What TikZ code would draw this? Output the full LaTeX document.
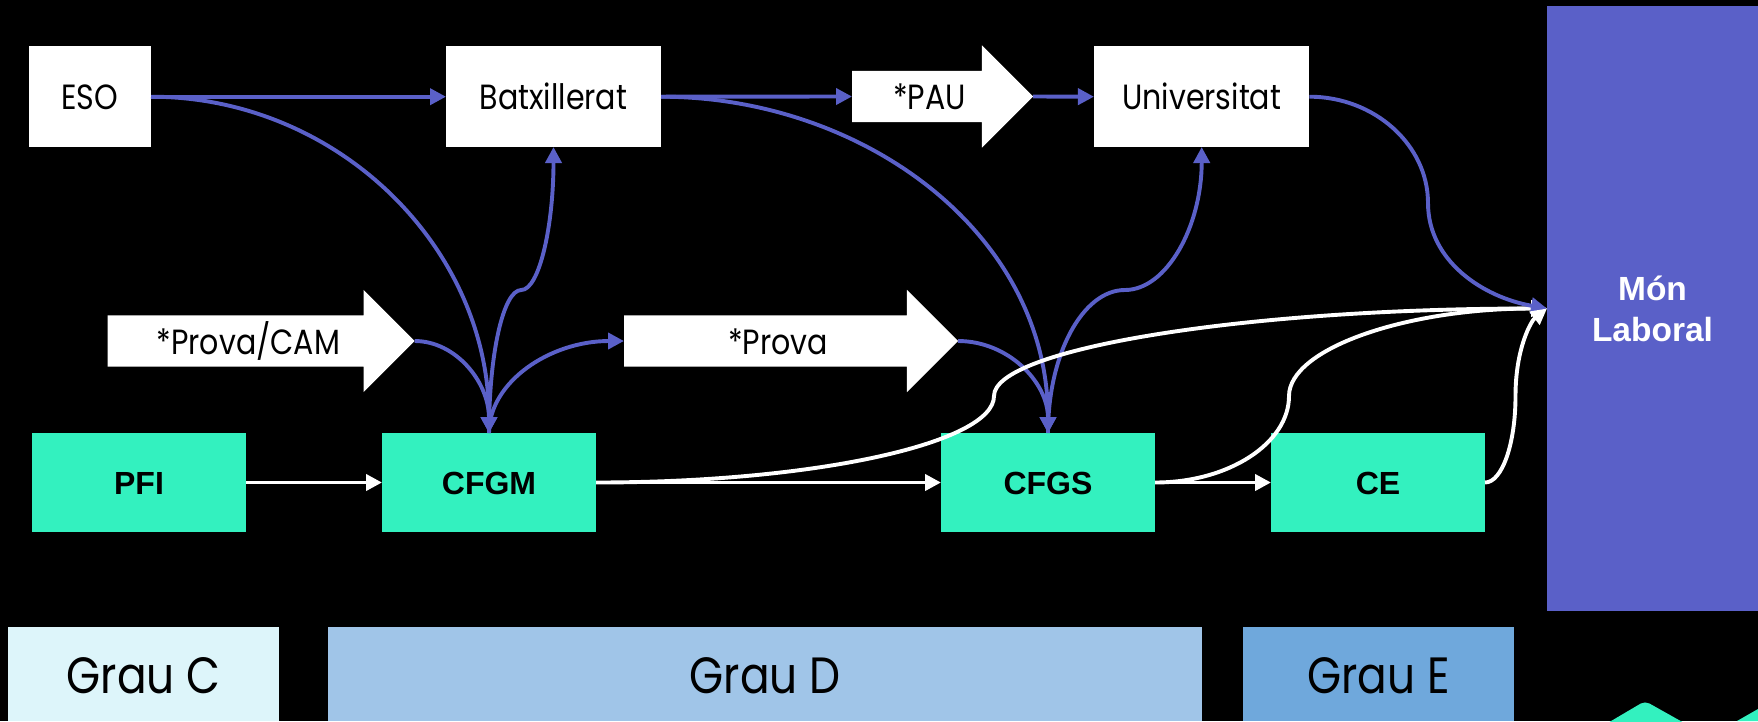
\documentclass[tikz,border=0pt]{standalone}
\usepackage{fontspec}
\setmainfont{Liberation Sans}
\newfontfamily\roundfont[FakeStretch=0.86]{Poppins}
\usetikzlibrary{shapes.arrows, arrows.meta, positioning, calc}

\definecolor{laboral}{HTML}{5A60C8}
\definecolor{mint}{HTML}{33F1BF}
\definecolor{grauc}{HTML}{DDF5FA}
\definecolor{graud}{HTML}{A0C5E8}
\definecolor{graue}{HTML}{6FA8DC}

\tikzset{
    whitebox/.style={fill=white, inner sep=0pt, outer sep=0pt, minimum height=100.6pt, text height=26.5pt, text depth=0pt, font=\fontsize{35}{42}\selectfont\roundfont},
    mintbox/.style={fill=mint, inner sep=0pt, outer sep=0pt, minimum width=214pt, minimum height=99pt, text height=23pt, text depth=0pt, font=\fontsize{32}{38}\selectfont\bfseries},
    graubox/.style={inner sep=0pt, outer sep=0pt, minimum height=94pt, text height=38.5pt, text depth=0pt, font=\fontsize{51}{58}\selectfont\roundfont},
    fatarrow/.style={single arrow, fill=white, anchor=tail, inner xsep=0pt, inner ysep=12.5pt, outer sep=0pt,
        text height=26pt, text depth=0pt, single arrow tip angle=90, single arrow head extend=25.5pt,
        minimum width=102pt, font=\fontsize{35}{42}\selectfont\roundfont},
    blueline/.style={draw=laboral, line width=3.9pt, -{Triangle[length=16pt,width=16pt]}},
    whiteline/.style={draw=white, line width=3.9pt, -{Triangle[length=16pt,width=16pt]}},
    lens/.style 2 args={out distance=#1pt, in distance=#2pt}
}

\begin{document}
\begin{tikzpicture}[x=1pt, y=1pt]
    % Background, same size as the page
    \fill[black] (0,0) rectangle (1758,-721);
    \useasboundingbox (0,0) rectangle (1758,-721);

    % Top row
    \node[whitebox, minimum width=122.4pt] (eso) at (89.8,-96.7) {ESO};
    \node[whitebox, minimum width=215pt] (batx) at (553.5,-96.7) {Batxillerat};
    \node[whitebox, minimum width=215.5pt] (univ) at (1201.7,-96.7) {Universitat};
    \node[fatarrow, minimum height=181pt] (pau) at (852,-96.5) {*PAU};

    % Middle row
    \node[fatarrow, minimum height=307pt] (cam) at (107.7,-341) {*Prova/CAM};
    \node[fatarrow, minimum height=334pt] (prova) at (624,-341) {*Prova};

    % Bottom row
    \node[mintbox] (pfi) at (139,-482.5) {PFI};
    \node[mintbox] (cfgm) at (489,-482.5) {CFGM};
    \node[mintbox] (cfgs) at (1048,-482.5) {CFGS};
    \node[mintbox] (ce) at (1378,-482.5) {CE};

    \node[fill=laboral, inner sep=0pt, outer sep=0pt, minimum width=211pt, minimum height=605pt, text=white,
        align=center, font=\fontsize{33.5}{41}\selectfont\bfseries] (mon) at (1652.5,-308.5) {Món\\Laboral};

    % Grau bands
    \node[graubox, fill=grauc, minimum width=271pt] (grauC) at (143.5,-674) {Grau C};
    \node[graubox, fill=graud, minimum width=874pt] (grauD) at (765,-674) {Grau D};
    \node[graubox, fill=graue, minimum width=271pt] (grauE) at (1378.5,-674) {Grau E};

    % Logo, only its top shows
    \fill[mint, rounded corners=5pt] (1606,-724) -- (1645,-701) -- (1686,-724) -- cycle;
    \fill[mint] (1737,-721) -- (1758,-709) -- (1758,-721) -- cycle;

    % Bends of the curved connectors
    \coordinate (midbatx) at ($(cfgm.north)!.5!(batx.south)$);
    \coordinate (miduniv) at ($(cfgs.north)!.5!(univ.south)$);
    \coordinate (midmon) at (1428,-203);
    \coordinate (whiteA) at (994,-396);
    \coordinate (whiteB) at (1289,-396);
    \coordinate (whiteC) at (1515.5,-396);

    % Straight blue connectors
    \draw[blueline] (eso.east) -- (batx.west);
    \draw[blueline] (batx.east) -- (pau.tail);
    \draw[blueline] (pau.tip) -- (univ.west);

    % Curved blue connectors
    \draw[blueline] (eso.east) to[out=0, in=90] (cfgm.north);
    \draw[blueline] (batx.east) to[out=0, in=90] (cfgs.north);
    \draw[blueline] (cam.tip) to[out=0, in=90, lens={41}{51}] (cfgm.north);
    \draw[blueline] (prova.tip) to[out=0, in=90, lens={50}{51}] (cfgs.north);
    \draw[blueline] (cfgm.north) to[out=90, in=180, lens={51}{74}] (prova.tail);
    \draw[blueline] (cfgm.north) to[out=90, in=180, lens={79}{18}] (midbatx) to[out=0, in=-90, lens={18}{79}] (batx.south);
    \draw[blueline] (cfgs.north) to[out=90, in=180, lens={79}{42}] (miduniv) to[out=0, in=-90, lens={42}{79}] (univ.south);

    % White connectors
    \draw[whiteline] (pfi.east) -- (cfgm.west);
    \draw[whiteline] (cfgm.east) -- (cfgs.west);
    \draw[whiteline] (cfgs.east) -- (ce.west);
    \draw[whiteline] (cfgm.east) to[out=0, in=-90, lens={219}{47}] (whiteA) to[out=90, in=180, lens={47}{304}] (mon.west);
    \draw[whiteline] (cfgs.east) to[out=0, in=-90, lens={74}{47}] (whiteB) to[out=90, in=180, lens={47}{142}] (mon.west);

    % These two lie over the others at the tip
    \draw[blueline] (univ.east) to[out=0, in=90, lens={65}{58}] (midmon) to[out=-90, in=170, lens={58}{65}] (mon.west);
    \draw[whiteline] (ce.east) to[out=0, in=-90, lens={17}{48}] (whiteC) to[out=90, in=218, lens={48}{20}] (mon.west);
\end{tikzpicture}
\end{document}
